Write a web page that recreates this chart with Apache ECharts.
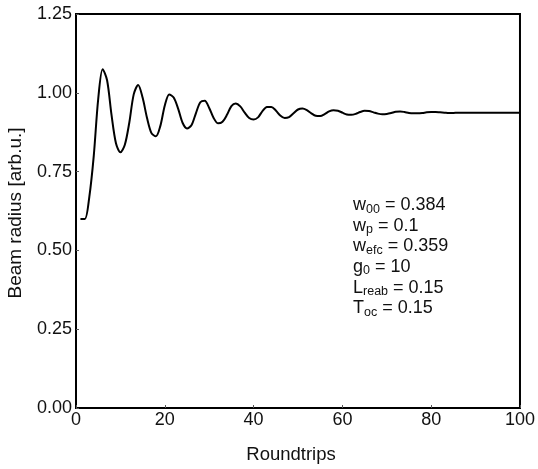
<!DOCTYPE html>
<html>
<head>
<meta charset="utf-8">
<script src="https://cdn.jsdelivr.net/npm/echarts@6/dist/echarts.min.js"></script>
<style>html,body{margin:0;padding:0;background:#fff}#c{width:538px;height:469px}</style>
</head>
<body>
<div id="c"></div>
<script>
const roundtrips = [];
for (let i = 1; i <= 100; i++) roundtrips.push(i);
const beamRadius = [
  0.600, 0.600, 0.670, 0.800, 0.980, 1.075, 1.040, 0.930, 0.840, 0.811,
  0.835, 0.905, 0.995, 1.025, 0.985, 0.920, 0.872, 0.862, 0.895, 0.960,
  0.995, 0.985, 0.950, 0.905, 0.887, 0.897, 0.935, 0.970, 0.975, 0.952,
  0.920, 0.903, 0.908, 0.930, 0.958, 0.966, 0.957, 0.937, 0.920, 0.915,
  0.922, 0.942, 0.955, 0.955, 0.944, 0.928, 0.920, 0.923, 0.935, 0.947,
  0.950, 0.945, 0.935, 0.927, 0.926, 0.932, 0.941, 0.945, 0.943, 0.937,
  0.931, 0.930, 0.933, 0.939, 0.943, 0.942, 0.938, 0.934, 0.932, 0.933,
  0.936, 0.940, 0.941, 0.939, 0.936, 0.935, 0.935, 0.936, 0.938, 0.939,
  0.939, 0.938, 0.937, 0.936, 0.936, 0.937, 0.937, 0.937, 0.937, 0.937,
  0.937, 0.937, 0.937, 0.937, 0.937, 0.937, 0.937, 0.937, 0.937, 0.937
];
const yTicks = [0, 0.25, 0.5, 0.75, 1.0, 1.25];
const xTicks = [0, 20, 40, 60, 80, 100];
const paramLines = [
  ['w', '00', ' = 0.384'],
  ['w', 'p', ' = 0.1'],
  ['w', 'efc', ' = 0.359'],
  ['g', '0', ' = 10'],
  ['L', 'reab', ' = 0.15'],
  ['T', 'oc', ' = 0.15']
];

const font = 'Liberation Sans, Arial, sans-serif';
const chart = echarts.init(document.getElementById('c'));
const paramText = paramLines.map(l => l[0] + '{s|' + l[1] + '}' + l[2]).join('\n');

chart.setOption({
  animation: false,
  backgroundColor: '#fff',
  grid: {left: 76, right: 17, top: 14, bottom: 61, show: true, borderColor: '#000', borderWidth: 2},
  xAxis: {
    type: 'value', min: xTicks[0], max: xTicks[xTicks.length - 1], interval: 20,
    axisLine: {show: true, lineStyle: {color: '#000', width: 2}},
    axisTick: {show: true, inside: true, length: 3, lineStyle: {color: '#555', width: 1}},
    splitLine: {show: false},
    axisLabel: {color: '#111', fontSize: 18, fontFamily: font, margin: 3}
  },
  yAxis: {
    type: 'value', min: yTicks[0], max: yTicks[yTicks.length - 1], interval: 0.25,
    axisLine: {show: true, lineStyle: {color: '#000', width: 2}},
    axisTick: {show: true, inside: true, length: 3, lineStyle: {color: '#555', width: 1}},
    splitLine: {show: false},
    axisLabel: {color: '#111', fontSize: 18, fontFamily: font, margin: 4,
      formatter: v => v.toFixed(2)}
  },
  graphic: [
    {type: 'text', x: 291, y: 455, style: {text: 'Roundtrips', fill: '#111', fontSize: 18.5, fontFamily: font, align: 'center', verticalAlign: 'middle'}},
    {type: 'text', x: 16, y: 213, rotation: Math.PI / 2, style: {text: 'Beam radius [arb.u.]', fill: '#111', fontSize: 19, fontFamily: font, align: 'center', verticalAlign: 'middle'}},
    {type: 'text', x: 353, y: 195, style: {
      text: paramText, fill: '#111', fontSize: 18, fontFamily: font, lineHeight: 20.6,
      rich: {s: {fontSize: 12.5, fontFamily: font, fill: '#111', verticalAlign: 'bottom', lineHeight: 12, padding: [6, 0, 0, 0]}}
    }}
  ],
  series: [{
    type: 'line', data: roundtrips.map((x, i) => [x, beamRadius[i]]),
    showSymbol: false, smooth: 0.3,
    lineStyle: {color: '#000', width: 2}
  }]
});
</script>
</body>
</html>
